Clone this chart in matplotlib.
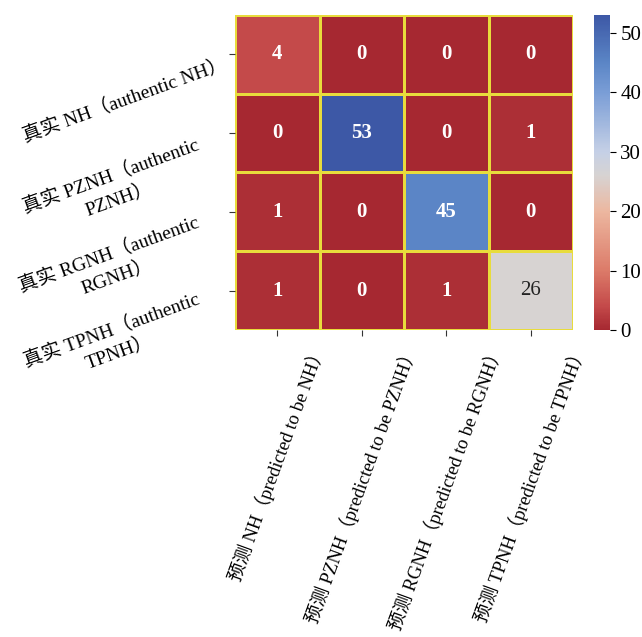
import numpy as np
import matplotlib
matplotlib.use("Agg")
import matplotlib.pyplot as plt
import matplotlib.transforms as mtransforms
from matplotlib.colors import LinearSegmentedColormap

plt.rcParams['font.family'] = ['Liberation Serif', 'Noto Sans CJK SC']

# confusion matrix (rows: true class, cols: predicted class)
true_labels = ['真实 NH（authentic NH）',
               '真实 PZNH（authentic\nPZNH）',
               '真实 RGNH（authentic\nRGNH）',
               '真实 TPNH（authentic\nTPNH）']
pred_labels = ['预测 NH（predicted to be NH）',
               '预测 PZNH（predicted to be PZNH）',
               '预测 RGNH（predicted to be RGNH）',
               '预测 TPNH（predicted to be TPNH）']
counts = np.array([[4, 0, 0, 0],
                   [0, 53, 0, 1],
                   [1, 0, 45, 0],
                   [1, 0, 1, 26]])
cbar_ticks = [0, 10, 20, 30, 40, 50]

# muted coolwarm_r, as in the printed figure
cmap = LinearSegmentedColormap.from_list('muted_cw', [
    (0.0, '#a62831'), (0.075, '#c44a4a'), (0.189, '#dc7b69'),
    (0.377, '#ecb7a0'), (0.49, '#d7d3d2'), (0.566, '#c5d0e6'),
    (0.755, '#7a9dd6'), (0.849, '#5b86c6'), (1.0, '#3d58a6')])

fig = plt.figure(figsize=(6.42, 6.37), dpi=100)
ax = fig.add_axes([235 / 642, 1 - 330 / 637, 338 / 642, 315 / 637])
cax = fig.add_axes([594 / 642, 1 - 330 / 637, 16 / 642, 315 / 637])

mesh = ax.pcolormesh(counts, cmap=cmap, vmin=0, vmax=counts.max(),
                     edgecolors='#e8dc3c', linewidth=2)
ax.set_xlim(0, 4)
ax.set_ylim(4, 0)
for s in ax.spines.values():
    s.set_visible(False)

for i in range(counts.shape[0]):
    for j in range(counts.shape[1]):
        v = counts[i, j]
        light = 15 < v < 38
        ax.text(j + 0.5, i + 0.5, str(v), ha='center', va='center',
                fontsize=15, color='#222222' if light else 'white',
                fontweight='normal' if light else 'bold')

ax.set_xticks(np.arange(4) + 0.5)
ax.set_yticks(np.arange(4) + 0.5)
ax.set_xticklabels(pred_labels, rotation=70, ha='center', fontsize=13.5)
ax.set_yticklabels(true_labels, rotation=20, ha='right', va='center',
                   rotation_mode='anchor', fontsize=14, multialignment='center',
                   linespacing=1.35)
ax.tick_params(axis='x', length=4, color='#333333', pad=5)
ax.tick_params(axis='y', length=4, color='#333333', pad=19)

# the printed labels sit a little below their ticks
shifts = [(24, 9), (0, 23), (0, 21), (0, 19)]
for lab, (dx, dy) in zip(ax.get_yticklabels(), shifts):
    off = mtransforms.ScaledTranslation(dx / 100, -dy / 100, fig.dpi_scale_trans)
    lab.set_transform(lab.get_transform() + off)

cb = fig.colorbar(mesh, cax=cax, ticks=cbar_ticks)
cb.outline.set_visible(False)
cb.ax.tick_params(labelsize=15, length=4)

fig.savefig('out.png', dpi=100)
